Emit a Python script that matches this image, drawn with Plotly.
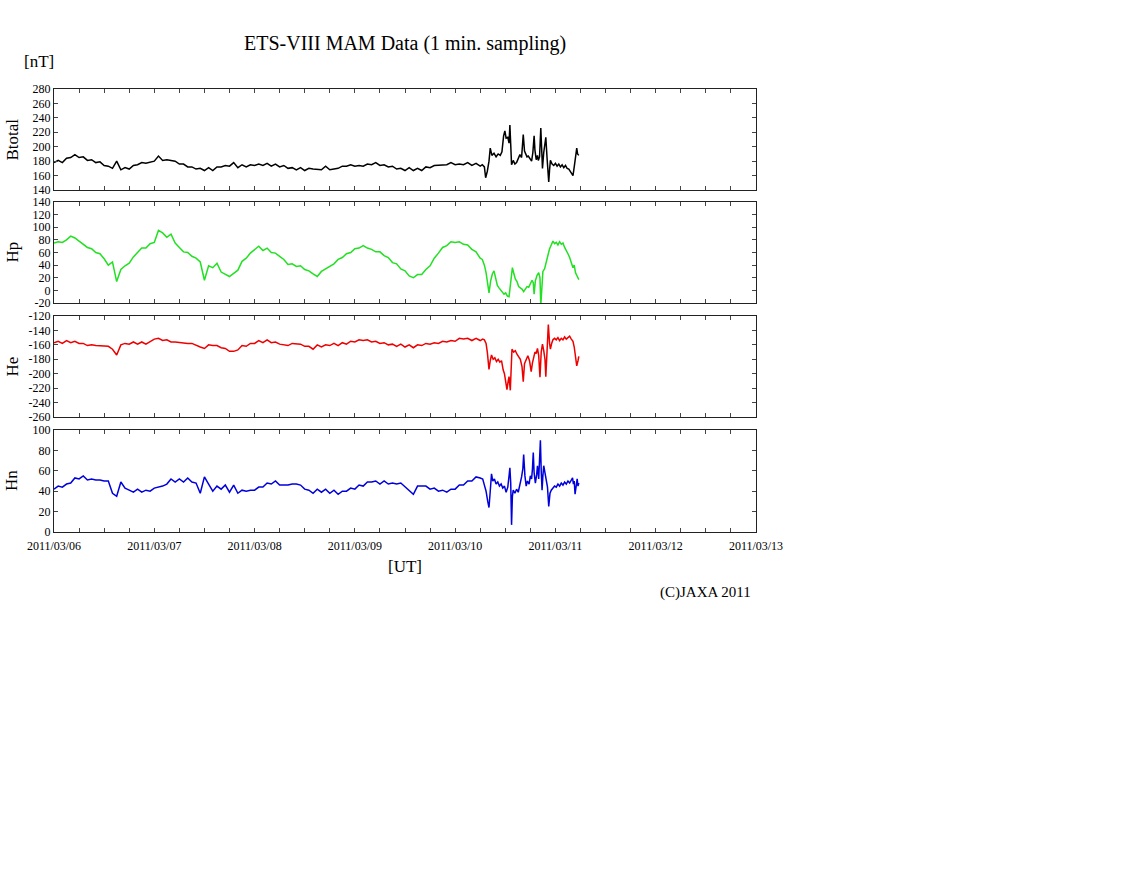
import plotly.graph_objects as go
import pandas as pd

W, H = 1122, 888
START = pd.Timestamp("2011-03-06 00:00")

# ---------------- data (hours since 2011/03/06 00:00 UT, values in nT) ----------------
quiet_hours = list(range(0, 103))

btotal_quiet = [178, 181, 178, 184, 185, 189, 185, 186, 181, 182,
                178, 179, 174, 173, 170, 180, 168, 171, 169, 174,
                175, 178, 177, 179, 180, 187, 181, 182, 181, 180,
                176, 176, 172, 172, 169, 170, 167, 171, 167, 172,
                172, 174, 173, 178, 171, 175, 172, 175, 174, 176,
                174, 177, 173, 176, 172, 174, 170, 171, 168, 171,
                167, 170, 169, 169, 168, 173, 168, 169, 170, 173,
                173, 175, 173, 174, 173, 176, 175, 178, 174, 175,
                172, 173, 169, 170, 167, 171, 167, 170, 167, 172,
                171, 174, 174, 175, 175, 178, 175, 176, 175, 178,
                174, 177, 173]
btotal_storm_hours = [102.5, 103.0, 103.3, 103.7, 104.1, 104.4, 104.8, 105.3, 105.8, 106.3,
                      106.8, 107.2, 107.6, 107.9, 108.2, 108.6, 108.9, 109.1, 109.3, 109.5,
                      109.9, 110.3, 110.7, 111.1, 111.5, 111.9, 112.3, 112.6, 112.9, 113.2,
                      113.5, 113.9, 114.3, 114.6, 114.9, 115.1, 115.4, 115.7, 115.9, 116.2,
                      116.5, 116.7, 116.9, 117.2, 117.5, 117.7, 118.0, 118.2, 118.4, 118.6,
                      118.8, 119.2, 119.6, 120.0, 120.4, 120.8, 121.2, 121.6, 122.0, 122.4,
                      122.8, 123.2, 123.6, 124.0, 124.2, 124.5, 124.8, 125.1, 125.3, 125.6]
btotal_storm = [175, 172, 157, 166, 180, 198, 188, 191, 186, 190,
                188, 193, 215, 222, 212, 213, 205, 230, 203, 175,
                181, 176, 178, 183, 189, 185, 217, 194, 190, 186,
                187, 183, 180, 192, 215, 195, 182, 188, 181, 186,
                226, 198, 170, 192, 205, 213, 184, 172, 151, 168,
                181, 176, 174, 177, 173, 176, 172, 175, 171, 174,
                170, 169, 166, 162, 160, 172, 187, 198, 190, 188]

hp_quiet = [75, 77, 76, 80, 86, 83, 78, 73, 68, 66,
            60, 58, 50, 40, 45, 14, 33, 39, 43, 53,
            60, 67, 67, 74, 76, 95, 91, 84, 89, 75,
            68, 61, 60, 54, 51, 45, 16, 39, 36, 43,
            29, 25, 22, 27, 32, 46, 51, 59, 65, 70,
            63, 67, 60, 59, 54, 49, 41, 42, 38, 39,
            33, 31, 26, 22, 30, 34, 39, 42, 49, 52,
            58, 60, 66, 67, 71, 67, 65, 61, 61, 55,
            52, 44, 42, 34, 31, 23, 20, 25, 25, 33,
            39, 51, 59, 68, 71, 77, 76, 77, 73, 72,
            65, 61, 51]
hp_storm_hours = [102.5, 103.0, 103.4, 103.8, 104.1, 104.5, 104.9, 105.3, 105.7, 106.1,
                  106.5, 106.9, 107.3, 107.7, 108.1, 108.5, 108.9, 109.3, 109.7, 110.0,
                  110.4, 110.8, 111.2, 111.6, 112.0, 112.4, 112.8, 113.2, 113.6, 114.0,
                  114.4, 114.7, 114.9, 115.2, 115.6, 116.0, 116.3, 116.5, 116.7, 117.0,
                  117.4, 117.8, 118.2, 118.6, 119.0, 119.4, 119.8, 120.2, 120.6, 121.0,
                  121.4, 121.8, 122.2, 122.6, 123.0, 123.4, 123.8, 124.2, 124.5, 124.8,
                  125.1, 125.4, 125.6]
hp_storm = [49, 40, 28, 10, -4, 15, 26, 31, 20, 8,
            4, 1, -3, -6, -4, -9, -10, 12, 36, 28,
            18, 14, 6, 4, 2, -2, 3, 6, 5, 10,
            16, 12, -6, 15, 24, 28, 20, -24, 8, 30,
            34, 46, 56, 66, 72, 78, 74, 76, 72, 77,
            73, 75, 68, 64, 58, 52, 44, 36, 40, 28,
            24, 20, 17]

he_quiet = [-157, -155, -158, -154, -157, -155, -158, -158, -161, -160,
            -161, -161, -162, -162, -166, -174, -160, -158, -159, -156,
            -159, -156, -159, -155, -152, -151, -154, -153, -156, -156,
            -157, -157, -158, -158, -161, -163, -165, -160, -161, -161,
            -164, -165, -169, -169, -167, -161, -162, -158, -158, -154,
            -157, -153, -157, -156, -159, -160, -161, -158, -159, -159,
            -162, -162, -166, -160, -163, -160, -161, -158, -161, -157,
            -159, -155, -156, -153, -154, -153, -156, -155, -158, -157,
            -160, -159, -162, -159, -163, -160, -164, -160, -161, -158,
            -159, -157, -158, -155, -156, -154, -155, -151, -152, -151,
            -154, -151, -154]
he_storm_hours = [102.6, 103.0, 103.4, 103.7, 104.1, 104.4, 104.7, 105.1, 105.5, 105.9,
                  106.3, 106.7, 107.1, 107.5, 107.8, 108.1, 108.4, 108.7, 108.9, 109.2,
                  109.4, 109.6, 110.0, 110.4, 110.8, 111.2, 111.6, 112.0, 112.3, 112.6,
                  113.0, 113.4, 113.8, 114.2, 114.5, 114.8, 115.1, 115.4, 115.7, 116.0,
                  116.3, 116.6, 116.9, 117.2, 117.5, 117.7, 118.0, 118.3, 118.6, 118.8,
                  119.1, 119.4, 119.8, 120.2, 120.6, 121.0, 121.4, 121.8, 122.2, 122.6,
                  123.0, 123.4, 123.8, 124.2, 124.5, 124.8, 125.1, 125.4, 125.6]
he_storm = [-152, -153, -158, -170, -194, -182, -174, -180, -178, -183,
            -180, -184, -182, -195, -200, -211, -222, -210, -204, -223,
            -200, -166, -170, -168, -173, -176, -180, -190, -211, -186,
            -180, -175, -182, -197, -185, -178, -170, -172, -165, -175,
            -205, -170, -159, -168, -180, -204, -168, -132, -158, -166,
            -158, -153, -151, -153, -150, -154, -151, -153, -149, -152,
            -150, -148, -152, -155, -163, -178, -189, -182, -176]

hn_quiet = [42, 45, 44, 47, 48, 53, 52, 55, 51, 52,
            51, 51, 50, 50, 38, 35, 49, 43, 41, 39,
            42, 39, 41, 40, 43, 44, 45, 47, 52, 49,
            52, 49, 53, 49, 48, 38, 54, 47, 40, 45,
            42, 46, 39, 46, 38, 41, 40, 41, 41, 44,
            44, 48, 47, 50, 46, 46, 46, 47, 47, 46,
            42, 41, 38, 42, 39, 42, 38, 41, 37, 40,
            40, 43, 42, 46, 45, 49, 49, 50, 47, 50,
            47, 48, 47, 48, 44, 40, 37, 45, 45, 45,
            42, 43, 40, 41, 39, 42, 42, 46, 46, 50,
            50, 54, 53]
hn_storm_hours = [102.6, 103.0, 103.4, 103.8, 104.1, 104.4, 104.7, 105.0, 105.4, 105.8,
                  106.2, 106.6, 107.0, 107.4, 107.8, 108.2, 108.6, 108.9, 109.1, 109.3,
                  109.5, 109.7, 109.9, 110.3, 110.7, 111.1, 111.5, 111.9, 112.2, 112.4,
                  112.7, 113.0, 113.3, 113.7, 114.0, 114.3, 114.5, 114.7, 114.9, 115.2,
                  115.5, 115.7, 116.0, 116.2, 116.4, 116.6, 116.8, 117.0, 117.2, 117.5,
                  117.8, 118.1, 118.4, 118.7, 119.0, 119.4, 119.8, 120.2, 120.6, 121.0,
                  121.4, 121.8, 122.2, 122.6, 123.0, 123.4, 123.8, 124.1, 124.3, 124.5,
                  124.7, 124.9, 125.2, 125.4, 125.6]
hn_storm = [52, 46, 40, 30, 24, 40, 57, 50, 52, 47,
            49, 45, 47, 43, 45, 39, 44, 55, 63, 48,
            7, 35, 41, 38, 42, 39, 46, 54, 62, 76,
            55, 45, 50, 47, 55, 52, 62, 78, 58, 48,
            56, 65, 52, 68, 90, 60, 41, 55, 65, 58,
            51, 44, 25, 38, 41, 43, 45, 44, 47, 45,
            48, 46, 49, 47, 50, 48, 51, 53, 47, 50,
            37, 46, 52, 45, 48]

# y tick values / labels (ASCII hyphen as in the original)
btotal_ticks = [140, 160, 180, 200, 220, 240, 260, 280]
hp_ticks = [-20, 0, 20, 40, 60, 80, 100, 120, 140]
he_ticks = [-260, -240, -220, -200, -180, -160, -140, -120]
hn_ticks = [0, 20, 40, 60, 80, 100]

panel_names = ["Btotal", "Hp", "He", "Hn"]
panel_colors = ["#000000", "#22e022", "#ee0000", "#0000dd"]
panel_ranges = [[140, 280], [-20, 140], [-260, -120], [0, 100]]
panel_ticks = [btotal_ticks, hp_ticks, he_ticks, hn_ticks]
x_range = ["2011-03-06 00:00", "2011-03-13 00:00"]

series = [
    (quiet_hours + btotal_storm_hours, btotal_quiet + btotal_storm),
    (quiet_hours + hp_storm_hours, hp_quiet + hp_storm),
    (quiet_hours + he_storm_hours, he_quiet + he_storm),
    (quiet_hours + hn_storm_hours, hn_quiet + hn_storm),
]

# ---------------- layout in pixels ----------------
def px(x):
    return x / W

def py(y):
    return 1 - y / H

x_left, x_right = 54, 756
panel_px = [(89, 190), (202, 303), (316, 417), (430, 532)]

FONT = "Liberation Serif, Times New Roman, serif"

fig = go.Figure()
layout = dict(
    width=W, height=H,
    margin=dict(l=0, r=0, t=0, b=0, autoexpand=False),
    paper_bgcolor="white", plot_bgcolor="white",
    showlegend=False,
    font=dict(family=FONT, size=12, color="black"),
)

for i, (name, color, yr, ticks, (top, bot), (hrs, vals)) in enumerate(
        zip(panel_names, panel_colors, panel_ranges, panel_ticks, panel_px, series)):
    n = i + 1
    xa = "x" if n == 1 else f"x{n}"
    ya = "y" if n == 1 else f"y{n}"
    times = START + pd.to_timedelta(hrs, unit="h")
    fig.add_trace(go.Scatter(x=times, y=vals, mode="lines",
                             line=dict(color=color, width=1.5),
                             xaxis=xa, yaxis=ya, hoverinfo="skip"))
    layout[f"xaxis{'' if n == 1 else n}"] = dict(
        domain=[px(x_left), px(x_right)], anchor=ya, type="date",
        range=x_range, showgrid=False, zeroline=False, automargin=False,
        showline=True, linecolor="#222", linewidth=1, mirror="allticks",
        ticks="inside", ticklen=4, tickcolor="#444",
        dtick=86400000, tick0="2011-03-06", tickformat="%Y/%m/%d",
        showticklabels=(n == 4), ticklabelstandoff=3,
        tickfont=dict(family=FONT, size=12, color="black"),
        minor=dict(dtick=6 * 3600000, ticks="inside", ticklen=4, tickcolor="#444", showgrid=False),
    )
    layout[f"yaxis{'' if n == 1 else n}"] = dict(
        domain=[py(bot), py(top)], anchor=xa, range=yr,
        showgrid=False, zeroline=False, automargin=False,
        showline=True, linecolor="#222", linewidth=1, mirror="allticks",
        ticks="inside", ticklen=4, tickcolor="#444",
        tickmode="array", tickvals=ticks, ticktext=[str(t) for t in ticks],
        tickfont=dict(family=FONT, size=12, color="black"),
    )

fig.update_layout(**layout)

annots = [
    dict(text="ETS-VIII MAM Data (1 min. sampling)", x=px(405), y=py(43), size=20),
    dict(text="[nT]", x=px(39), y=py(62), size=17),
    dict(text="[UT]", x=px(405), y=py(566), size=17),
    dict(text="(C)JAXA 2011", x=px(705), y=py(592), size=15),
]
for a in annots:
    fig.add_annotation(text=a["text"], x=a["x"], y=a["y"], xref="paper", yref="paper",
                       showarrow=False, xanchor="center", yanchor="middle",
                       font=dict(family=FONT, size=a["size"], color="black"))

for name, (top, bot) in zip(panel_names, panel_px):
    fig.add_annotation(text=name, x=px(12), y=py((top + bot) / 2), xref="paper", yref="paper",
                       showarrow=False, textangle=-90, xanchor="center", yanchor="middle",
                       font=dict(family=FONT, size=17, color="black"))

fig.write_html("out.html")
